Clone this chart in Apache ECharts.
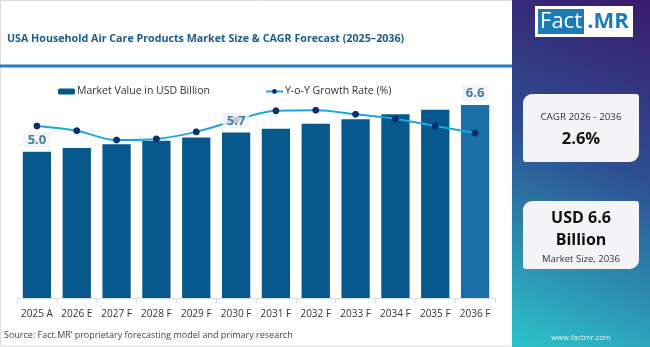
<!DOCTYPE html>
<html><head><meta charset="utf-8">
<script src="https://cdn.jsdelivr.net/npm/echarts@6/dist/echarts.min.js"></script>
<style>html,body{margin:0;padding:0;background:#fff}#c{width:650px;height:347px}</style>
</head><body><div id="c"></div>
<script>
var categories = ['2025 A','2026 E','2027 F','2028 F','2029 F','2030 F','2031 F','2032 F','2033 F','2034 F','2035 F','2036 F'];
var marketValue = [5.0, 5.13, 5.26, 5.38, 5.49, 5.66, 5.79, 5.96, 6.11, 6.28, 6.44, 6.6];
var growthRate = [2.94, 2.86, 2.70, 2.72, 2.84, 3.04, 3.20, 3.21, 3.14, 3.06, 2.94, 2.82];
var labeledIdx = [0, 5, 11];
var FONT = '"Open Sans", "Noto Sans", sans-serif';

var barData = marketValue.map(function(v, i){
  return i === marketValue.length - 1 ? {value: v, itemStyle: {color: '#1b6fa8'}} : v;
});
var labelData = marketValue.map(function(v, i){ return labeledIdx.indexOf(i) >= 0 ? v : '-'; });

var chart = echarts.init(document.getElementById('c'), null, {renderer: 'canvas'});
chart.setOption({
  animation: false,
  textStyle: {fontFamily: FONT},
  title: {
    text: 'USA Household Air Care Products Market Size & CAGR Forecast (2025\u20132036)',
    left: 2, top: 28,
    textStyle: {fontFamily: FONT, fontSize: 10.7, fontWeight: 'bold', color: '#1b5c8e'}
  },
  legend: {
    data: ['Market Value in USD Billion', 'Y-o-Y Growth Rate (%)'],
    left: 53, top: 81, itemGap: 55, itemWidth: 17, itemHeight: 6,
    textStyle: {fontFamily: FONT, fontSize: 10.5, color: '#333', padding: [0,0,0,-3]}
  },
  grid: {left: 17, right: 155, top: 64, bottom: 49},
  xAxis: {
    type: 'category', data: categories,
    axisLine: {lineStyle: {color: '#d5dee8'}},
    axisTick: {show: true, alignWithLabel: false, length: 5, lineStyle: {color: '#d5dee8'}},
    axisLabel: {fontFamily: FONT, fontSize: 10, color: '#333', margin: 11, interval: 0}
  },
  yAxis: [
    {type: 'value', min: 0, max: 8, show: false, splitLine: {show: false}},
    {type: 'value', min: 0, max: 4, show: false, splitLine: {show: false}}
  ],
  series: [
    {
      name: 'Market Value in USD Billion', type: 'bar', data: barData,
      barCategoryGap: '29%', itemStyle: {color: '#07588c'}, z: 2
    },
    {
      name: 'Y-o-Y Growth Rate (%)', type: 'line', yAxisIndex: 1, data: growthRate,
      smooth: 0.35, symbol: 'circle', symbolSize: 6,
      lineStyle: {color: '#1fa5e0', width: 2},
      itemStyle: {color: '#0b2d6b', borderColor: '#0b2d6b'},
      z: 3
    },
    {
      name: 'labels', type: 'scatter', data: labelData, symbolSize: 0, z: 5,
      silent: true,
      label: {
        show: true, position: 'top', distance: 4,
        formatter: function(p){ return p.value.toFixed(1); },
        fontFamily: FONT, fontSize: 13, fontWeight: 'bold', color: '#1b5c8e',
        backgroundColor: '#f1f2f4', padding: [2, 4, 1, 4]
      }
    }
  ],
  graphic: [
    {type: 'rect', shape: {x: 0.5, y: 0.5, width: 512, height: 345.5}, style: {fill: 'none', stroke: '#dcdcdc', lineWidth: 1}, z: -10},
    {type: 'rect', shape: {x: 0, y: 64.5, width: 512, height: 3}, style: {fill: '#2b7db4'}},
    {type: 'rect', shape: {x: 512, y: 0, width: 138, height: 347},
      style: {fill: new echarts.graphic.LinearGradient(1, 0, 0, 1, [
        {offset: 0, color: '#3a1a6c'}, {offset: 0.45, color: '#2d4f92'}, {offset: 1, color: '#2cc3c9'}
      ])}},
    {type: 'rect', shape: {x: 535, y: 6, width: 98, height: 31}, style: {fill: '#ffffff'}},
    {type: 'rect', shape: {x: 538, y: 9, width: 46, height: 25}, style: {fill: '#1c7bb5'}},
    {type: 'text', x: 561, y: 22, style: {text: 'Fact', fill: '#fff', fontFamily: FONT, fontSize: 22, align: 'center', verticalAlign: 'middle'}},
    {type: 'text', x: 608, y: 22, style: {text: '.MR', fill: '#1c7bb5', fontFamily: FONT, fontSize: 22, fontWeight: 'bold', align: 'center', verticalAlign: 'middle'}},
    {type: 'rect', shape: {x: 523, y: 94, width: 116, height: 68, r: [9, 3, 9, 3]}, style: {fill: '#f4f4f6'}},
    {type: 'text', x: 581, y: 117, style: {text: 'CAGR 2026 - 2036', fill: '#333', fontFamily: FONT, fontSize: 9.8, align: 'center', verticalAlign: 'middle'}},
    {type: 'text', x: 581, y: 139, style: {text: '2.6%', fill: '#111', fontFamily: FONT, fontSize: 16.5, fontWeight: 'bold', align: 'center', verticalAlign: 'middle'}},
    {type: 'rect', shape: {x: 523, y: 201, width: 116, height: 68, r: [9, 3, 9, 3]}, style: {fill: '#f4f4f6'}},
    {type: 'text', x: 581, y: 218, style: {text: 'USD 6.6', fill: '#111', fontFamily: FONT, fontSize: 16, fontWeight: 'bold', align: 'center', verticalAlign: 'middle'}},
    {type: 'text', x: 581, y: 240, style: {text: 'Billion', fill: '#111', fontFamily: FONT, fontSize: 16, fontWeight: 'bold', align: 'center', verticalAlign: 'middle'}},
    {type: 'text', x: 581, y: 259, style: {text: 'Market Size, 2036', fill: '#333', fontFamily: FONT, fontSize: 9.5, align: 'center', verticalAlign: 'middle'}},
    {type: 'text', x: 581, y: 338, style: {text: 'www.factmr.com', fill: '#e8f4f8', fontFamily: FONT, fontSize: 7.5, align: 'center', verticalAlign: 'middle'}},
    {type: 'text', x: 4, y: 335, style: {text: 'Source: Fact.MR\u2019 proprietary forecasting model and primary research', fill: '#444', fontFamily: FONT, fontSize: 9, verticalAlign: 'middle'}}
  ]
});
</script></body></html>
